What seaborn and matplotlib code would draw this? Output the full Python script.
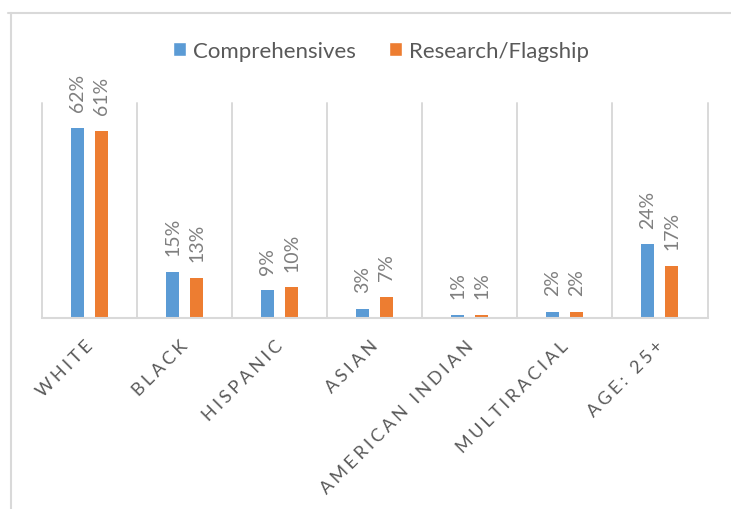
import matplotlib
matplotlib.use("Agg")
import numpy as np
import pandas as pd
import matplotlib.pyplot as plt
import seaborn as sns
from matplotlib.lines import Line2D
from matplotlib.patches import Patch
from matplotlib.transforms import ScaledTranslation

# Share of students by group, two institution types
categories = ["WHITE", "BLACK", "HISPANIC", "ASIAN", "AMERICAN INDIAN", "MULTIRACIAL", "AGE: 25+"]
comprehensives = [0.62, 0.15, 0.09, 0.03, 0.01, 0.02, 0.24]
research_flagship = [0.61, 0.13, 0.10, 0.07, 0.01, 0.02, 0.17]
series_names = ["Comprehensives", "Research/Flagship"]
colors = ["#5B9BD5", "#ED7D31"]

df = pd.DataFrame({
    "group": categories * 2,
    "series": [series_names[0]] * len(categories) + [series_names[1]] * len(categories),
    "share": comprehensives + research_flagship,
})

sns.set_theme(style="white")
plt.rcParams["font.family"] = ["Lato", "DejaVu Sans"]

W, H = 731, 510
fig = plt.figure(figsize=(W / 100, H / 100), dpi=100)
ax = fig.add_axes([42 / W, 1 - 319 / H, (707.5 - 42) / W, (319 - 104) / H])

sns.barplot(data=df, x="group", y="share", hue="series", order=categories,
            hue_order=series_names, palette=colors, saturation=1,
            width=0.505, gap=0.46, linewidth=0, legend=False, ax=ax)

grid_c = "#D9D9D9"
ax.set_xlim(-0.5, len(categories) - 0.5)
ax.set_ylim(0, 0.70)
ax.set_yticks([])
ax.set_xlabel("")
ax.set_ylabel("")
for s in ["left", "right", "top"]:
    ax.spines[s].set_visible(False)
ax.spines["bottom"].set_color(grid_c)
ax.spines["bottom"].set_linewidth(1.5)

# category separators
for xv in np.arange(-0.5, len(categories), 1.0):
    ax.axvline(xv, color=grid_c, lw=1.4, zorder=0, clip_on=False)

# rotated value labels
for cont, vals in zip(ax.containers, [comprehensives, research_flagship]):
    ax.bar_label(cont, labels=[f"{round(v * 100)}%" for v in vals], rotation=90,
                 padding=12, color="#7F7F7F", fontsize=14)

# letter-spaced category labels
spaced = ["\u2009\u200a".join(list(c)) for c in categories]
ax.set_xticks(range(len(categories)))
ax.set_xticklabels(spaced, rotation=45, ha="right", rotation_mode="anchor",
                   fontsize=13, color="#595959")
ax.tick_params(axis="x", length=0, pad=14)
shift = ScaledTranslation(-0.05, 0, fig.dpi_scale_trans)
for lbl in ax.get_xticklabels():
    lbl.set_transform(lbl.get_transform() + shift)

# chart frame
fig.add_artist(Line2D([8 / W, 1], [1 - 14 / H, 1 - 14 / H], transform=fig.transFigure,
                      color=grid_c, lw=1.5))
fig.add_artist(Line2D([10.5 / W, 10.5 / W], [1 - 14 / H, 0], transform=fig.transFigure,
                      color=grid_c, lw=1.5))

handles = [Patch(facecolor=c, label=n) for c, n in zip(colors, series_names)]
fig.legend(handles=handles, loc="center", bbox_to_anchor=(381 / W, 1 - 52 / H),
           ncol=2, frameon=False, fontsize=16, handlelength=0.6, handleheight=0.6,
           handletextpad=0.3, columnspacing=1.5, labelcolor="#595959")

fig.savefig("out.png", dpi=100)
